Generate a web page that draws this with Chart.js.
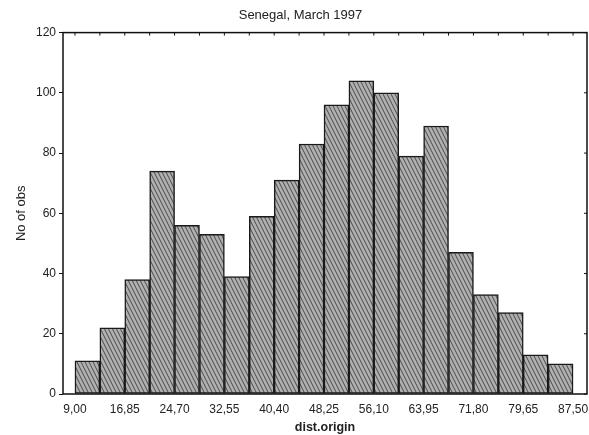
<!DOCTYPE html>
<html lang="en">
<head>
  <meta charset="UTF-8">
  <title>Senegal, March 1997</title>
  <script src="https://cdn.jsdelivr.net/npm/chart.js"></script>
  <style>
    body {
      margin: 0;
      padding: 0;
      background-color: #fff;
    }
    #wrap {
      width: 589px;
      height: 435px;
    }
  </style>
</head>
<body>
  <div id="wrap"><canvas id="histChart" width="589" height="435"></canvas></div>

  <script>
    // bin edges of the histogram (dist.origin)
    const binEdges = [9.00, 12.925, 16.85, 20.775, 24.70, 28.625, 32.55, 36.475, 40.40, 44.325,
      48.25, 52.175, 56.10, 60.025, 63.95, 67.875, 71.80, 75.725, 79.65, 83.575, 87.50];
    // number of observations per bin
    const counts = [11, 22, 38, 74, 56, 53, 39, 59, 71, 83, 96, 104, 100, 79, 89, 47, 33, 27, 13, 10];
    // x tick labels
    const xTickLabels = ['9,00', '16,85', '24,70', '32,55', '40,40', '48,25', '56,10', '63,95', '71,80', '79,65', '87,50'];
    const yTicks = [0, 20, 40, 60, 80, 100, 120];

    const xTickValues = xTickLabels.map(s => parseFloat(s.replace(',', '.')));
    const points = counts.map((c, i) => ({ x: (binEdges[i] + binEdges[i + 1]) / 2, y: c }));

    // hatched grey fill like the scanned plot
    function makeHatch() {
      const p = document.createElement('canvas');
      p.width = 4;
      p.height = 8;
      const c = p.getContext('2d');
      c.fillStyle = '#b0b0b0';
      c.fillRect(0, 0, 4, 8);
      c.strokeStyle = '#4a4a4a';
      c.lineWidth = 1;
      [-4, 0, 4].forEach(o => {
        c.beginPath();
        c.moveTo(o, 0);
        c.lineTo(o + 4, 8);
        c.stroke();
      });
      return document.getElementById('histChart').getContext('2d').createPattern(p, 'repeat');
    }

    const frame = {
      id: 'frame',
      afterDraw(chart) {
        const { ctx, chartArea: a, scales } = chart;
        ctx.save();
        ctx.strokeStyle = '#111';
        ctx.lineWidth = 1.5;
        ctx.strokeRect(a.left, a.top, a.right - a.left, a.bottom - a.top);
        ctx.lineWidth = 1;
        // small inward ticks on top and right borders
        binEdges.forEach(e => {
          const x = scales.x.getPixelForValue(e);
          ctx.beginPath();
          ctx.moveTo(x, a.top);
          ctx.lineTo(x, a.top + 3);
          ctx.stroke();
        });
        yTicks.forEach(v => {
          const y = scales.y.getPixelForValue(v);
          ctx.beginPath();
          ctx.moveTo(a.right, y);
          ctx.lineTo(a.right - 3, y);
          ctx.stroke();
        });
        ctx.restore();
      }
    };

    Chart.defaults.font.family = '"Liberation Sans", Arial, sans-serif';
    Chart.defaults.font.size = 12;
    Chart.defaults.color = '#222';

    const binW = binEdges[1] - binEdges[0];

    new Chart(document.getElementById('histChart'), {
      type: 'bar',
      data: {
        datasets: [{
          data: points,
          backgroundColor: makeHatch(),
          borderColor: '#1a1a1a',
          borderWidth: 1.5,
          borderSkipped: false,
          barPercentage: 1,
          categoryPercentage: 1
        }]
      },
      options: {
        responsive: false,
        animation: false,
        layout: { padding: { left: 14, right: 2, top: 0, bottom: 0 } },
        plugins: {
          legend: { display: false },
          tooltip: { enabled: false },
          title: {
            display: true,
            text: 'Senegal, March 1997',
            font: { size: 13, weight: 'normal' },
            color: '#222',
            padding: { top: 8, bottom: 9 }
          }
        },
        scales: {
          x: {
            type: 'linear',
            offset: false,
            min: binEdges[0] - binW * 0.48,
            max: binEdges[binEdges.length - 1] + binW * 0.56,
            afterBuildTicks: s => { s.ticks = xTickValues.map(v => ({ value: v })); },
            afterFit: s => {
              s.height = 41;
              s.paddingLeft = 0;
              s.paddingRight = 0;
            },
            ticks: {
              autoSkip: false,
              maxRotation: 0,
              padding: 8,
              callback: (v, i) => xTickLabels[i]
            },
            grid: { display: false, drawTicks: false },
            border: { display: false },
            title: {
              display: true,
              text: 'dist.origin',
              font: { size: 12.5, weight: 'bold' },
              padding: { top: 2, bottom: 0 }
            }
          },
          y: {
            min: 0,
            max: 120,
            afterBuildTicks: s => { s.ticks = yTicks.map(v => ({ value: v })); },
            afterFit: s => { s.width = 49; },
            ticks: { padding: 3 },
            grid: { drawOnChartArea: false, tickLength: 4, color: '#111' },
            border: { display: false },
            title: {
              display: true,
              text: 'No of obs',
              font: { size: 13 },
              padding: { top: 0, bottom: 6 }
            }
          }
        }
      },
      plugins: [frame]
    });
  </script>
</body>
</html>
